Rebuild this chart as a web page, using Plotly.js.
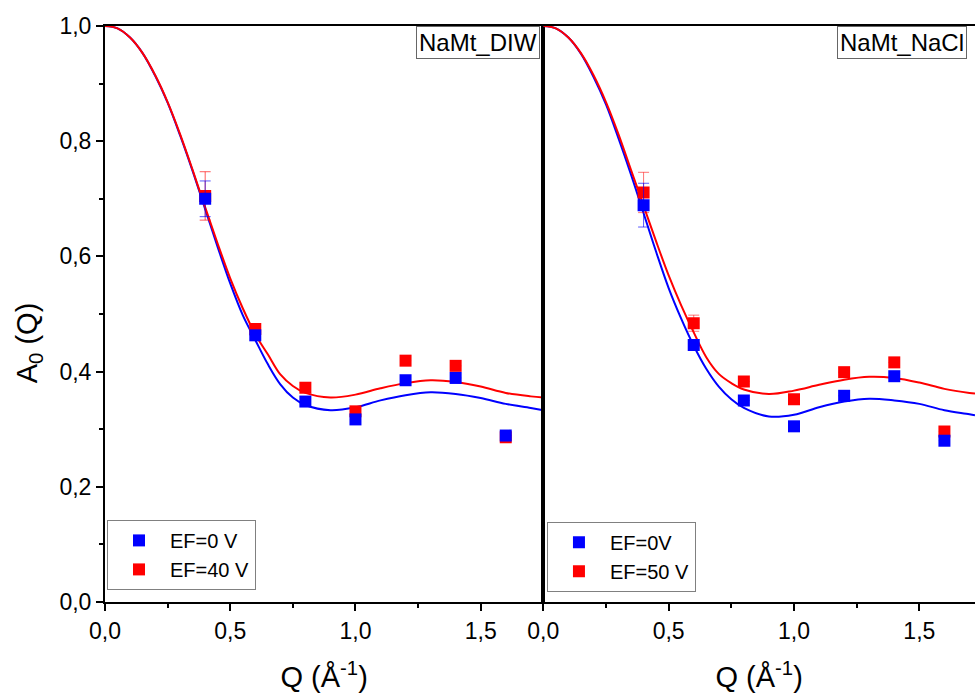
<!DOCTYPE html>
<html>
<head>
<meta charset="utf-8">
<script src="https://cdn.plot.ly/plotly-3.0.1.min.js"></script>
<style>html,body{margin:0;padding:0;background:#fff;}#chart{width:975px;height:693px;}</style>
</head>
<body>
<div id="chart"></div>
<script>
// Measured points
const qPts = [0.4, 0.6, 0.8, 1.0, 1.2, 1.4, 1.6];
const diwEF0 = [0.700, 0.463, 0.348, 0.317, 0.385, 0.389, 0.289];
const diwEF0Err = [0.031, 0, 0, 0, 0, 0, 0];
const diwEF40 = [0.705, 0.474, 0.372, 0.331, 0.419, 0.410, 0.286];
const diwEF40Err = [0.042, 0, 0, 0, 0, 0, 0];
const naclEF0 = [0.689, 0.446, 0.350, 0.305, 0.358, 0.392, 0.280];
const naclEF0Err = [0.038, 0, 0, 0, 0, 0, 0];
const naclEF50 = [0.711, 0.484, 0.383, 0.352, 0.399, 0.416, 0.296];
const naclEF50Err = [0.035, 0.014, 0, 0, 0, 0, 0];

// Fitted curves
const qFitL = [0,0.05,0.1,0.15,0.2,0.25,0.3,0.35,0.4,0.45,0.5,0.55,0.6,0.65,0.7,0.75,0.8,0.9,1.0,1.1,1.2,1.3,1.4,1.5,1.6,1.7,1.75];
const diwFit0 = [1.000,0.996,0.980,0.953,0.914,0.867,0.810,0.748,0.682,0.616,0.553,0.498,0.455,0.413,0.378,0.355,0.342,0.333,0.338,0.350,0.359,0.364,0.361,0.354,0.344,0.337,0.333];
const diwFit40 = [1.000,0.996,0.980,0.953,0.915,0.868,0.812,0.750,0.685,0.622,0.562,0.510,0.465,0.430,0.395,0.375,0.363,0.355,0.360,0.371,0.380,0.385,0.382,0.374,0.363,0.357,0.355];
const qFitR = [0,0.05,0.1,0.15,0.2,0.25,0.3,0.35,0.4,0.45,0.5,0.55,0.6,0.65,0.7,0.75,0.8,0.9,1.0,1.1,1.2,1.3,1.4,1.5,1.6,1.7,1.722];
const naclFit0 = [1.000,0.996,0.980,0.952,0.912,0.864,0.805,0.742,0.675,0.608,0.545,0.492,0.445,0.405,0.374,0.352,0.337,0.322,0.325,0.338,0.348,0.353,0.350,0.344,0.333,0.326,0.324];
const naclFit50 = [1.000,0.996,0.980,0.953,0.915,0.868,0.812,0.750,0.688,0.626,0.567,0.515,0.468,0.425,0.396,0.380,0.369,0.361,0.367,0.377,0.386,0.391,0.389,0.381,0.370,0.363,0.362];

const xTicks = [0, 0.5, 1.0, 1.5];
const yTicks = [0, 0.2, 0.4, 0.6, 0.8, 1.0];
const panelLabels = ['NaMt_DIW', 'NaMt_NaCl'];
const names = ['EF=0 V', 'EF=40 V', 'EF=0V', 'EF=50 V'];
const xTitleText = 'Q (Å<sup>-1</sup>)';
const yTitleText = 'A<sub>0</sub> (Q)';

const BLUE = '#0000ff', RED = '#ff0000';

function fit(x, y, color, xa, ya) {
  return {x: x, y: y, mode: 'lines', type: 'scatter', xaxis: xa, yaxis: ya,
    line: {color: color, width: 2, shape: 'spline', smoothing: 1}, showlegend: false, hoverinfo: 'skip'};
}
function pts(y, err, color, errColor, name, xa, ya, leg) {
  return {x: qPts, y: y, mode: 'markers', type: 'scatter', name: name, xaxis: xa, yaxis: ya, legend: leg,
    marker: {symbol: 'square', size: 12, color: color},
    error_y: {type: 'data', array: err, visible: true, color: errColor, thickness: 1, width: 5.5}};
}

const data = [
  fit(qFitL, diwFit0, BLUE, 'x', 'y'),
  fit(qFitL, diwFit40, RED, 'x', 'y'),
  pts(diwEF40, diwEF40Err, RED, 'rgba(255,0,0,0.65)', names[1], 'x', 'y', 'legend'),
  pts(diwEF0, diwEF0Err, BLUE, 'rgba(0,0,255,0.65)', names[0], 'x', 'y', 'legend'),
  fit(qFitR, naclFit0, BLUE, 'x2', 'y2'),
  fit(qFitR, naclFit50, RED, 'x2', 'y2'),
  pts(naclEF50, naclEF50Err, RED, 'rgba(255,0,0,0.55)', names[3], 'x2', 'y2', 'legend2'),
  pts(naclEF0, naclEF0Err, BLUE, 'rgba(0,0,255,0.65)', names[2], 'x2', 'y2', 'legend2')
];

const FONT = 'Liberation Sans, Arial, sans-serif';
const baseAxis = {
  showgrid: false, zeroline: false, showline: true, linecolor: '#000', linewidth: 2, mirror: true,
  ticks: 'outside', ticklen: 7, tickwidth: 2, tickcolor: '#000',
  tickfont: {family: FONT, size: 23, color: '#000'}, tickformat: '.1f'
};
const xTitle = {text: xTitleText, font: {family: FONT, size: 29, color: '#000'}, standoff: 25};

const legendBase = {
  bgcolor: '#fff', bordercolor: '#808080', borderwidth: 1,
  font: {family: FONT, size: 20, color: '#000'}, traceorder: 'reversed',
  xanchor: 'left', yanchor: 'bottom', itemwidth: 52, tracegroupgap: 0
};

const layout = {
  width: 975, height: 693,
  margin: {l: 105, r: 0, t: 26, b: 91, pad: 0},
  separators: ', ',
  paper_bgcolor: '#fff', plot_bgcolor: '#fff',
  font: {family: FONT, color: '#000'},
  showlegend: true,
  xaxis: Object.assign({}, baseAxis, {domain: [0, 0.5038], range: [0, 1.75], anchor: 'y',
    tickvals: xTicks, minor: {ticks: 'outside', ticklen: 4, tickwidth: 2, tickcolor: '#000', dtick: 0.25, showgrid: false},
    title: xTitle}),
  yaxis: Object.assign({}, baseAxis, {domain: [0, 1], range: [0, 1], anchor: 'x',
    tickvals: yTicks, minor: {ticks: 'outside', ticklen: 4, tickwidth: 2, tickcolor: '#000', dtick: 0.1, showgrid: false}}),
  xaxis2: Object.assign({}, baseAxis, {domain: [0.5038, 1], range: [0, 1.722], anchor: 'y2',
    tickvals: xTicks, minor: {ticks: 'outside', ticklen: 4, tickwidth: 2, tickcolor: '#000', dtick: 0.25, showgrid: false},
    title: xTitle}),
  yaxis2: Object.assign({}, baseAxis, {domain: [0, 1], range: [0, 1], anchor: 'x2',
    ticks: '', showticklabels: false}),
  legend: Object.assign({}, legendBase, {x: 0.0023, y: 0.021}),
  legend2: Object.assign({}, legendBase, {x: 0.508, y: 0.018}),
  annotations: [
    {text: yTitleText, xref: 'paper', yref: 'paper', x: -0.088, y: 0.45, xanchor: 'center', yanchor: 'middle',
     textangle: -90, showarrow: false, font: {family: FONT, size: 29, color: '#000'}},
    {text: panelLabels[0], xref: 'x domain', yref: 'y domain', x: 0.993, y: 1, xanchor: 'right', yanchor: 'top',
     showarrow: false, font: {family: FONT, size: 24, color: '#000'}, bgcolor: '#fff',
     bordercolor: '#666', borderwidth: 1, borderpad: 2},
    {text: panelLabels[1], xref: 'x2 domain', yref: 'y2 domain', x: 0.68, y: 1, xanchor: 'left', yanchor: 'top',
     showarrow: false, font: {family: FONT, size: 24, color: '#000'}, bgcolor: '#fff',
     bordercolor: '#666', borderwidth: 1, borderpad: 2}
  ]
};

Plotly.newPlot('chart', data, layout, {displayModeBar: false, responsive: false});
</script>
</body>
</html>
